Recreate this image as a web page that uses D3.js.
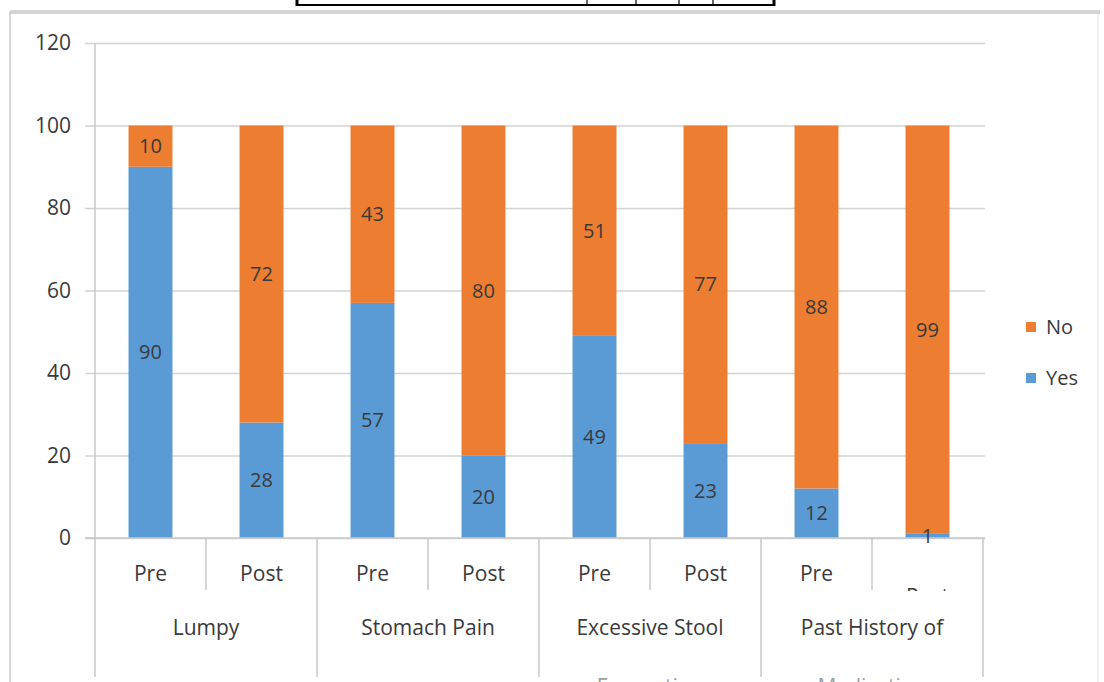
<!DOCTYPE html>
<html>
<head>
<meta charset="utf-8">
<script src="https://cdn.jsdelivr.net/npm/d3@7"></script>
<style>
  html, body { margin: 0; padding: 0; background: #fff; }
  svg { display: block; }
  text { font-family: "Open Sans", sans-serif; fill: #3a3a3a; }
</style>
</head>
<body>
<svg id="chart" width="1104" height="682"></svg>
<script>
// Survey responses (%) before and after treatment
const groups = ["Lumpy", "Stomach Pain", "Excessive Stool", "Past History of"];
const groupSecondLine = ["", "", "Evacuation", "Medication"];
const phases = ["Pre", "Post"];
const yesValues = [90, 28, 57, 20, 49, 23, 12, 1];
const noValues  = [10, 72, 43, 80, 51, 77, 88, 99];
const yTicks = [0, 20, 40, 60, 80, 100, 120];
const seriesNames = ["No", "Yes"];
const seriesColors = { Yes: "#5B9BD5", No: "#ED7D31" };

const svg = d3.select("#chart");
const W = 1104, H = 682;
const plotL = 95, plotR = 983, plotT = 43, plotB = 538;

// one row per bar: group + phase
const rows = [];
groups.forEach((g, gi) => phases.forEach((p, pi) => {
  const i = gi * phases.length + pi;
  rows.push({ key: g + "|" + p, group: g, phase: p, Yes: yesValues[i], No: noValues[i] });
}));

const x = d3.scaleBand()
  .domain(rows.map(d => d.key))
  .range([plotL, plotR])
  .paddingInner(0.604)
  .paddingOuter(0.302);
const y = d3.scaleLinear().domain([0, 120]).range([plotB, plotT]);

// frame of the surrounding document
const frame = svg.append("g");
frame.append("line").attr("x1", 10).attr("x2", 1100).attr("y1", 12).attr("y2", 12)
  .attr("stroke", "#d4d4d4").attr("stroke-width", 4);
frame.append("line").attr("x1", 10).attr("x2", 10).attr("y1", 12).attr("y2", H)
  .attr("stroke", "#c8c8c8").attr("stroke-width", 1.5);
frame.append("line").attr("x1", 1098).attr("x2", 1098).attr("y1", 14).attr("y2", H)
  .attr("stroke", "#eeeeee").attr("stroke-width", 1.5);

// bottom edge of a table above the chart
const tbl = svg.append("g").attr("stroke", "#000");
tbl.append("line").attr("x1", 297).attr("x2", 775).attr("y1", 5).attr("y2", 5).attr("stroke-width", 2);
[297, 774].forEach(px => tbl.append("line").attr("x1", px).attr("x2", px).attr("y1", 0).attr("y2", 6).attr("stroke-width", 3));
[587, 636, 679, 713].forEach(px => tbl.append("line").attr("x1", px).attr("x2", px).attr("y1", 0).attr("y2", 5).attr("stroke-width", 1.2));

// gridlines + y axis labels
const yAxis = d3.axisLeft(y).tickValues(yTicks).tickSize(0).tickPadding(14);
const gy = svg.append("g").attr("transform", `translate(${plotL - 10},0)`).call(yAxis);
gy.select(".domain").remove();
gy.selectAll(".tick line").attr("stroke", "#d3d3d3").attr("stroke-width", 1.6)
  .attr("x1", 0).attr("x2", plotR - plotL + 12);
gy.selectAll(".tick text").attr("font-size", 21).attr("fill", "#3a3a3a")
  .attr("font-family", "Open Sans, sans-serif");

// vertical axis line
svg.append("line").attr("x1", plotL).attr("x2", plotL).attr("y1", plotT).attr("y2", plotB)
  .attr("stroke", "#c8c8c8").attr("stroke-width", 1.5);

// stacked bars
const stack = d3.stack().keys(["Yes", "No"]);
const layers = stack(rows);
const barG = svg.append("g");
layers.forEach(layer => {
  barG.selectAll(null).data(layer).enter().append("rect")
    .attr("x", d => x(d.data.key))
    .attr("width", x.bandwidth())
    .attr("y", d => y(d[1]))
    .attr("height", d => y(d[0]) - y(d[1]))
    .attr("fill", seriesColors[layer.key]);
});

// x axis baseline and category separators
const ax = svg.append("g").attr("stroke", "#c8c8c8").attr("stroke-width", 1.5);
ax.append("line").attr("x1", plotL - 10).attr("x2", plotR + 2).attr("y1", plotB).attr("y2", plotB);
const step = x.step();
d3.range(rows.length + 1).forEach(i => {
  const px = plotL + i * step;
  const major = i % phases.length === 0;
  ax.append("line").attr("x1", px).attr("x2", px)
    .attr("y1", plotB).attr("y2", major ? 677 : 590);
});

// value labels
layers.forEach(layer => {
  svg.append("g").selectAll(null).data(layer).enter().append("text")
    .attr("x", d => x(d.data.key) + x.bandwidth() / 2)
    .attr("y", d => y((d[0] + d[1]) / 2))
    .attr("dy", "0.35em")
    .attr("text-anchor", "middle")
    .attr("font-size", 20)
    .attr("fill", "#333")
    .text(d => d.data[layer.key]);
});

// phase labels (the last one sits lower and is cut by the cell edge)
svg.append("defs").append("clipPath").attr("id", "cellClip")
  .append("rect").attr("x", 0).attr("y", 0).attr("width", W).attr("height", 591);
svg.append("g").attr("clip-path", "url(#cellClip)")
  .selectAll(null).data(rows).enter().append("text")
  .attr("x", (d, i) => plotL + i * step + step / 2)
  .attr("y", (d, i) => i === rows.length - 1 ? 604 : 581)
  .attr("text-anchor", "middle")
  .attr("font-size", 21)
  .text(d => d.phase);

// group labels; the second lines fall below the visible area
groups.forEach((g, gi) => {
  const cx = plotL + (gi + 0.5) * step * phases.length;
  svg.append("text").attr("x", cx).attr("y", 635).attr("text-anchor", "middle")
    .attr("font-size", 21).text(g);
  if (groupSecondLine[gi]) {
    svg.append("text").attr("x", cx).attr("y", 694).attr("text-anchor", "middle")
      .attr("font-size", 21).attr("fill-opacity", 0.5).text(groupSecondLine[gi]);
  }
});

// legend
const lg = svg.append("g");
seriesNames.forEach((s, i) => {
  const ly = 327 + i * 51;
  lg.append("rect").attr("x", 1026).attr("y", ly - 5).attr("width", 10).attr("height", 10)
    .attr("fill", seriesColors[s]);
  lg.append("text").attr("x", 1046).attr("y", ly).attr("dy", "0.35em")
    .attr("font-size", 20).text(s);
});
</script>
</body>
</html>
